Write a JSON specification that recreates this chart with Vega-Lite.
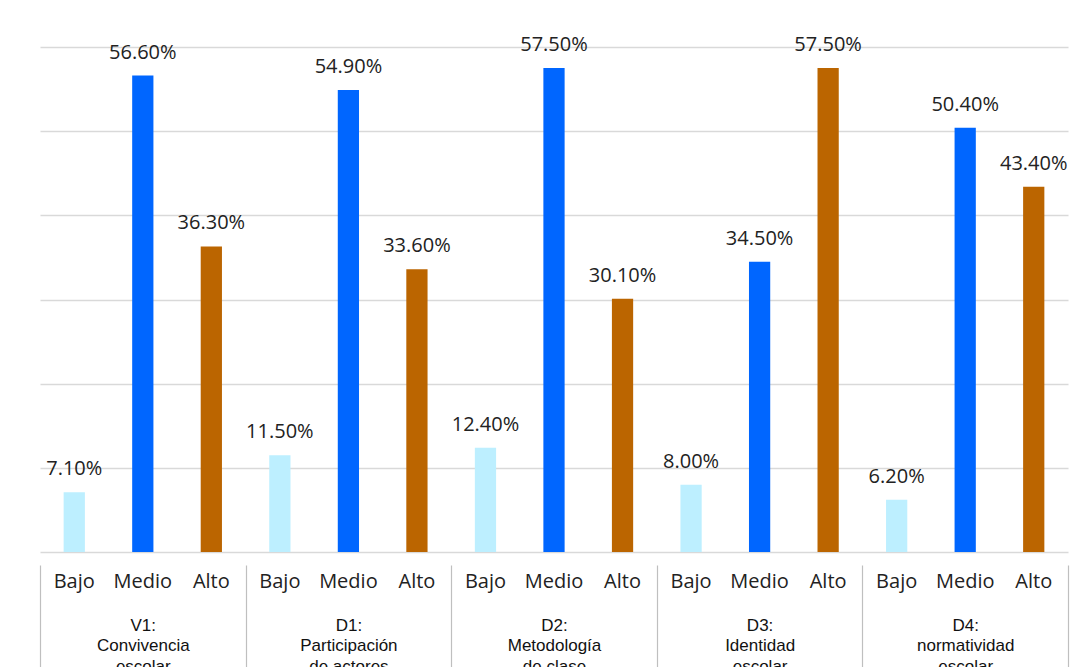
{
  "$schema": "https://vega.github.io/schema/vega-lite/v6.json",
  "width": 1028,
  "height": 505,
  "autosize": "none",
  "padding": {"left": 40, "top": 47, "right": 13, "bottom": 115},
  "background": "white",
  "config": {"view": {"stroke": null}, "font": "Open Sans"},
  "layer": [
    {
      "data": {
        "values": [
          {"key": "V1|Bajo", "nivel": "Bajo", "value": 0.071},
          {"key": "V1|Medio", "nivel": "Medio", "value": 0.566},
          {"key": "V1|Alto", "nivel": "Alto", "value": 0.363},
          {"key": "D1|Bajo", "nivel": "Bajo", "value": 0.115},
          {"key": "D1|Medio", "nivel": "Medio", "value": 0.549},
          {"key": "D1|Alto", "nivel": "Alto", "value": 0.336},
          {"key": "D2|Bajo", "nivel": "Bajo", "value": 0.124},
          {"key": "D2|Medio", "nivel": "Medio", "value": 0.575},
          {"key": "D2|Alto", "nivel": "Alto", "value": 0.301},
          {"key": "D3|Bajo", "nivel": "Bajo", "value": 0.080},
          {"key": "D3|Medio", "nivel": "Medio", "value": 0.345},
          {"key": "D3|Alto", "nivel": "Alto", "value": 0.575},
          {"key": "D4|Bajo", "nivel": "Bajo", "value": 0.062},
          {"key": "D4|Medio", "nivel": "Medio", "value": 0.504},
          {"key": "D4|Alto", "nivel": "Alto", "value": 0.434}
        ]
      },
      "encoding": {
        "x": {
          "field": "key",
          "type": "nominal",
          "sort": null,
          "scale": {"paddingInner": 0.69, "paddingOuter": 0.345},
          "axis": {
            "title": null,
            "labelExpr": "split(datum.label, '|')[1]",
            "labelAngle": 0,
            "ticks": false,
            "domain": false,
            "labelFont": "Open Sans",
            "labelFontSize": 20,
            "labelColor": "#222222",
            "labelPadding": 19
          }
        },
        "y": {
          "field": "value",
          "type": "quantitative",
          "scale": {"domain": [0, 0.6], "nice": false},
          "axis": {
            "title": null,
            "labels": false,
            "ticks": false,
            "domain": false,
            "values": [0, 0.1, 0.2, 0.3, 0.4, 0.5, 0.6],
            "gridColor": "#d9d9d9",
            "gridWidth": 1.4
          }
        }
      },
      "layer": [
        {
          "mark": {"type": "bar"},
          "encoding": {
            "color": {
              "field": "nivel",
              "type": "nominal",
              "scale": {"domain": ["Bajo", "Medio", "Alto"], "range": ["#bdefff", "#0066ff", "#bb6500"]},
              "legend": null
            }
          }
        },
        {
          "mark": {"type": "text", "baseline": "alphabetic", "dy": -17, "fontSize": 20, "font": "Open Sans", "color": "#222222"},
          "encoding": {
            "text": {"field": "value", "type": "quantitative", "format": ".2%"}
          }
        }
      ]
    },
    {
      "data": {
        "values": [
          {"grupo": "V1:|Convivencia|escolar"},
          {"grupo": "D1:|Participación|de actores|escolares"},
          {"grupo": "D2:|Metodología|de clase"},
          {"grupo": "D3:|Identidad|escolar"},
          {"grupo": "D4:|normatividad|escolar"}
        ]
      },
      "mark": {"type": "point", "opacity": 0},
      "encoding": {
        "x": {
          "field": "grupo",
          "type": "nominal",
          "sort": null,
          "scale": {"paddingInner": 0, "paddingOuter": 0},
          "axis": {
            "orient": "bottom",
            "title": null,
            "offset": 13,
            "domain": false,
            "ticks": true,
            "tickBand": "extent",
            "tickSize": 115,
            "tickColor": "#bfbfbf",
            "tickWidth": 1.2,
            "labelExpr": "split(datum.label, '|')",
            "labelAngle": 0,
            "labelBaseline": "middle",
            "labelPadding": -55,
            "labelFont": "Liberation Sans",
            "labelFontSize": 17,
            "labelLineHeight": 20.5,
            "labelColor": "#111111"
          }
        }
      }
    }
  ],
  "resolve": {"scale": {"x": "independent"}, "axis": {"x": "independent"}}
}
